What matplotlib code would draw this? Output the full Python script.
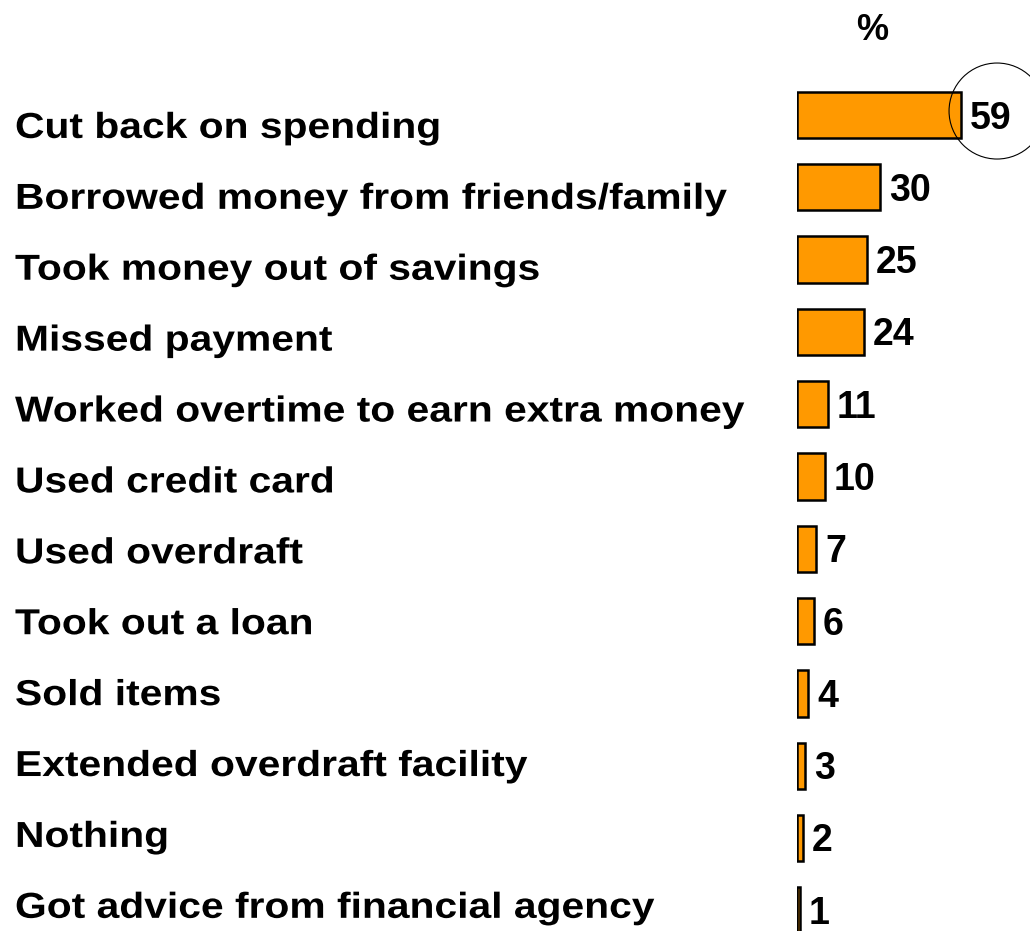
import matplotlib
matplotlib.use("Agg")
import matplotlib.pyplot as plt
from matplotlib.patches import Circle
from matplotlib.patheffects import AbstractPathEffect
from matplotlib.transforms import Affine2D, blended_transform_factory, ScaledTranslation

plt.rcParams['font.family'] = ['Liberation Sans', 'DejaVu Sans']

categories = [
    "Cut back on spending",
    "Borrowed money from friends/family",
    "Took money out of savings",
    "Missed payment",
    "Worked overtime to earn extra money",
    "Used credit card",
    "Used overdraft",
    "Took out a loan",
    "Sold items",
    "Extended overdraft facility",
    "Nothing",
    "Got advice from financial agency",
]
values = [59, 30, 25, 24, 11, 10, 7, 6, 4, 3, 2, 1]

bar_color = "#FF9900"


class WideText(AbstractPathEffect):
    """Draw glyph outlines widened horizontally from the text origin."""

    def __init__(self, sx):
        super().__init__()
        self._sx = sx

    def draw_path(self, renderer, gc, tpath, affine, rgbFace=None):
        renderer.draw_path(gc, tpath, Affine2D().scale(self._sx, 1.0) + affine, rgbFace)


W, H = 1030, 931
fig = plt.figure(figsize=(W / 100, H / 100), dpi=100)
ax = fig.add_axes([797 / W, 0.0, 1 - 797 / W, 1.0])

pos = list(range(len(values)))
ax.barh(pos, values, height=0.64, color=bar_color, edgecolor="black",
        linewidth=1.8, align="center")
ax.set_xlim(0, 83.8)
ax.set_ylim(11.286, -1.591)
ax.axis("off")

# category labels, left aligned at the figure margin
row_px = 72.3
lab_trans = blended_transform_factory(fig.transFigure, ax.transData)
for p, c in zip(pos, categories):
    ax.text(15 / W, p + (22.9 - 1.4 * p) / row_px, c, transform=lab_trans,
            ha="left", va="baseline", fontsize=26, fontweight="bold",
            color="black", clip_on=False, path_effects=[WideText(1.13)])

# value labels at the bar ends
for p, v in zip(pos, values):
    ax.annotate(str(v), xy=(v, p), xytext=(6.5, -9.7), textcoords="offset points",
                ha="left", va="baseline", fontsize=27, fontweight="bold",
                color="black", annotation_clip=False)

# ring around the top value
ring_trans = fig.dpi_scale_trans + ScaledTranslation(values[0], pos[0], ax.transData)
ring = Circle((0.36, 0.04), 0.48, transform=ring_trans, fill=False,
              edgecolor="black", linewidth=0.8, clip_on=False)
fig.add_artist(ring)

fig.text(872 / W, 1 - 40.5 / H, "%", ha="center", va="baseline",
         fontsize=26, fontweight="bold", color="black")

fig.savefig("out.png", dpi=100, facecolor="white")
